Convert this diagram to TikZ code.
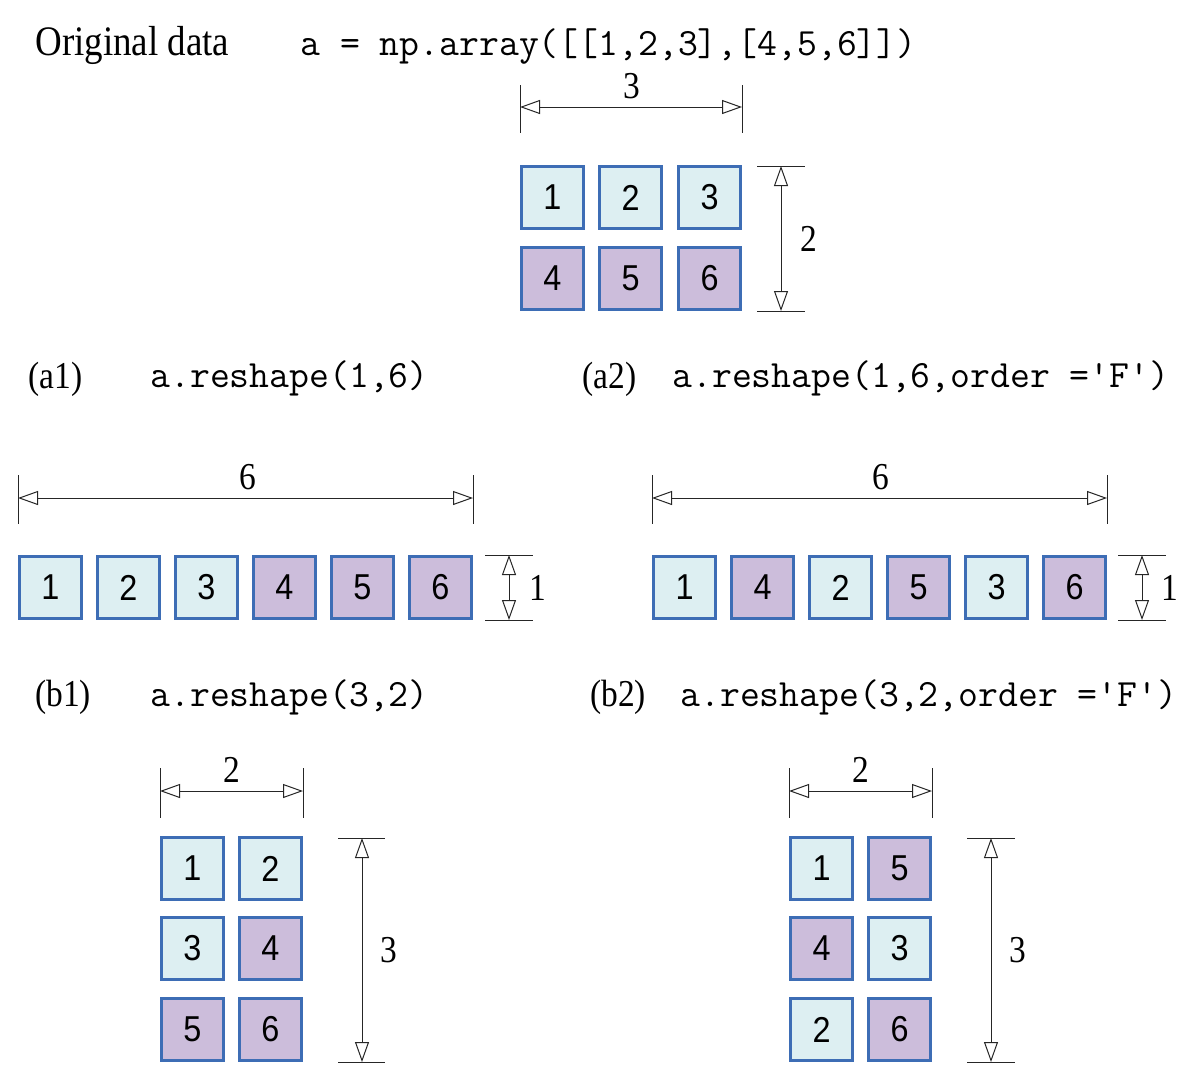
\documentclass[tikz,border=0pt]{standalone}
\usepackage{fontspec}
\setmainfont{Liberation Serif}
\setsansfont{Liberation Sans}
\usetikzlibrary{arrows.meta}
\definecolor{cellcyan}{HTML}{DDEFF2}
\definecolor{cellpurple}{HTML}{CCBDDB}
\definecolor{cellborder}{HTML}{3D6DB5}
\newcommand{\sertext}[1]{\scalebox{0.88}[1]{\fontsize{19}{22}\selectfont #1}}
\newcommand{\digtext}[1]{\scalebox{0.9}[1]{\sffamily\fontsize{18}{20}\selectfont #1}}
\begin{document}
\begin{tikzpicture}[x=0.5pt,y=-0.5pt,
  cellbase/.style={draw=cellborder, line width=1.6pt, minimum size=31pt, inner sep=0pt},
  cyancell/.style={cellbase, fill=cellcyan},
  purplecell/.style={cellbase, fill=cellpurple},
  dimline/.style={draw=black!85, line width=0.5pt},
  dimarrow/.style={dimline, {Triangle[open,length=10pt,width=7pt]}-{Triangle[open,length=10pt,width=7pt]}},
  codetext/.style={font=\ttfamily\fontsize{19.3}{22}\selectfont, inner sep=0pt, anchor=base west},
  lbltext/.style={inner sep=0pt, anchor=base west},
  dimlabel/.style={inner sep=0pt}
]
\useasboundingbox[fill=white] (0,0) rectangle (1203,1077);

% ---------- Original data ----------
\node[lbltext] (title) at (35,55) {\scalebox{0.88}[1]{\fontsize{21}{24}\selectfont Original data}};
\node[codetext] (codeO) at (300,55) {a = np.array([[1,2,3],[4,5,6]])};

\node[cyancell] (t1) at (552.5,197.5) {\digtext{1}};
\node[cyancell] (t2) at (630.5,197.5) {\digtext{2}};
\node[cyancell] (t3) at (709.5,197.5) {\digtext{3}};
\node[purplecell] (t4) at (552.5,278.5) {\digtext{4}};
\node[purplecell] (t5) at (630.5,278.5) {\digtext{5}};
\node[purplecell] (t6) at (709.5,278.5) {\digtext{6}};

\coordinate (tl) at (520,107); \coordinate (tr) at (742,107);
\draw[dimline] (520,85) -- (520,133);
\draw[dimline] (742,85) -- (742,133);
\draw[dimarrow] (tl) -- (tr);
\node[dimlabel] (tw) at (632,86) {\sertext{3}};

\coordinate (tt) at (781,166); \coordinate (tb) at (781,311);
\draw[dimline] (757,166) -- (805,166);
\draw[dimline] (757,311) -- (805,311);
\draw[dimarrow] (tt) -- (tb);
\node[dimlabel] (th) at (809,239) {\sertext{2}};

% ---------- (a1) ----------
\node[lbltext] (la1) at (28,388) {\sertext{(a1)}};
\node[codetext] (ca1) at (150,387) {a.reshape(1,6)};

\node[cyancell] (a11) at (50.5,587.5) {\digtext{1}};
\node[cyancell] (a12) at (128.5,587.5) {\digtext{2}};
\node[cyancell] (a13) at (206.5,587.5) {\digtext{3}};
\node[purplecell] (a14) at (284.5,587.5) {\digtext{4}};
\node[purplecell] (a15) at (362.5,587.5) {\digtext{5}};
\node[purplecell] (a16) at (440.5,587.5) {\digtext{6}};

\coordinate (a1l) at (18,498); \coordinate (a1r) at (473,498);
\draw[dimline] (18,475) -- (18,524);
\draw[dimline] (473,475) -- (473,524);
\draw[dimarrow] (a1l) -- (a1r);
\node[dimlabel] (a1w) at (248,477) {\sertext{6}};

\coordinate (a1t) at (509,555); \coordinate (a1b) at (509,620);
\draw[dimline] (485,555) -- (533,555);
\draw[dimline] (485,620) -- (533,620);
\draw[dimarrow] (a1t) -- (a1b);
\node[dimlabel] (a1h) at (538,588) {\sertext{1}};

% ---------- (a2) ----------
\node[lbltext] (la2) at (582,388) {\sertext{(a2)}};
\node[codetext] (ca2) at (672,387) {a.reshape(1,6,order ='F')};

\node[cyancell] (a21) at (684.5,587.5) {\digtext{1}};
\node[purplecell] (a22) at (762.5,587.5) {\digtext{4}};
\node[cyancell] (a23) at (840.5,587.5) {\digtext{2}};
\node[purplecell] (a24) at (918.5,587.5) {\digtext{5}};
\node[cyancell] (a25) at (996.5,587.5) {\digtext{3}};
\node[purplecell] (a26) at (1074.5,587.5) {\digtext{6}};

\coordinate (a2l) at (652,498); \coordinate (a2r) at (1107,498);
\draw[dimline] (652,475) -- (652,524);
\draw[dimline] (1107,475) -- (1107,524);
\draw[dimarrow] (a2l) -- (a2r);
\node[dimlabel] (a2w) at (881,477) {\sertext{6}};

\coordinate (a2t) at (1142,555); \coordinate (a2b) at (1142,620);
\draw[dimline] (1118,555) -- (1166,555);
\draw[dimline] (1118,620) -- (1166,620);
\draw[dimarrow] (a2t) -- (a2b);
\node[dimlabel] (a2h) at (1170,588) {\sertext{1}};

% ---------- (b1) ----------
\node[lbltext] (lb1) at (35,706) {\sertext{(b1)}};
\node[codetext] (cb1) at (150,706) {a.reshape(3,2)};

\node[cyancell] (b11) at (192.5,868.5) {\digtext{1}};
\node[cyancell] (b12) at (270.5,868.5) {\digtext{2}};
\node[cyancell] (b13) at (192.5,948.5) {\digtext{3}};
\node[purplecell] (b14) at (270.5,948.5) {\digtext{4}};
\node[purplecell] (b15) at (192.5,1029.5) {\digtext{5}};
\node[purplecell] (b16) at (270.5,1029.5) {\digtext{6}};

\coordinate (b1l) at (160,791); \coordinate (b1r) at (303,791);
\draw[dimline] (160,768) -- (160,818);
\draw[dimline] (303,768) -- (303,818);
\draw[dimarrow] (b1l) -- (b1r);
\node[dimlabel] (b1w) at (232,770) {\sertext{2}};

\coordinate (b1t) at (362,838); \coordinate (b1b) at (362,1062);
\draw[dimline] (338,838) -- (385,838);
\draw[dimline] (338,1062) -- (385,1062);
\draw[dimarrow] (b1t) -- (b1b);
\node[dimlabel] (b1h) at (389,950) {\sertext{3}};

% ---------- (b2) ----------
\node[lbltext] (lb2) at (590,706) {\sertext{(b2)}};
\node[codetext] (cb2) at (680,706) {a.reshape(3,2,order ='F')};

\node[cyancell] (b21) at (821.5,868.5) {\digtext{1}};
\node[purplecell] (b22) at (899.5,868.5) {\digtext{5}};
\node[purplecell] (b23) at (821.5,948.5) {\digtext{4}};
\node[cyancell] (b24) at (899.5,948.5) {\digtext{3}};
\node[cyancell] (b25) at (821.5,1029.5) {\digtext{2}};
\node[purplecell] (b26) at (899.5,1029.5) {\digtext{6}};

\coordinate (b2l) at (789,791); \coordinate (b2r) at (932,791);
\draw[dimline] (789,768) -- (789,818);
\draw[dimline] (932,768) -- (932,818);
\draw[dimarrow] (b2l) -- (b2r);
\node[dimlabel] (b2w) at (861,770) {\sertext{2}};

\coordinate (b2t) at (991,838); \coordinate (b2b) at (991,1062);
\draw[dimline] (967,838) -- (1015,838);
\draw[dimline] (967,1062) -- (1015,1062);
\draw[dimarrow] (b2t) -- (b2b);
\node[dimlabel] (b2h) at (1018,950) {\sertext{3}};
\end{tikzpicture}
\end{document}
